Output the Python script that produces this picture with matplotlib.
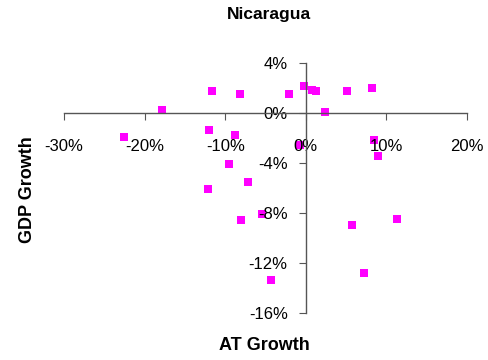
import matplotlib.pyplot as plt
from matplotlib.ticker import FuncFormatter

plt.rcParams['font.family'] = ['Liberation Sans', 'DejaVu Sans']

# AT growth (%) vs GDP growth (%)
at_growth = [-22.5, -17.9, -12.0, -12.1, -11.6, -9.5, -8.8, -8.15, -8.0, -7.15,
             -5.45, -4.3, -2.1, -0.72, -0.2, 0.77, 1.27, 2.43, 5.12, 5.75,
             7.2, 8.27, 8.4, 8.9, 11.26]
gdp_growth = [-1.94, 0.26, -1.34, -6.1, 1.74, -4.07, -1.8, 1.48, -8.6, -5.5,
              -8.12, -13.4, 1.53, -2.55, 2.12, 1.8, 1.75, 0.07, 1.75, -8.95,
              -12.84, 1.99, -2.2, -3.43, -8.52]

fig = plt.figure(figsize=(4.89, 3.6), dpi=100)
ax = fig.add_axes([0.1309, 0.1306, 0.8241, 0.6944])

ax.scatter(at_growth, gdp_growth, marker='s', s=38, color='#FF00FF', linewidths=0)

ax.set_xlim(-30, 20)
ax.set_ylim(-16, 4)
ax.set_xticks([-30, -20, -10, 0, 10, 20])
ax.set_yticks([-16, -12, -8, -4, 0, 4])
pct = FuncFormatter(lambda v, p: '%d%%' % round(v))
ax.xaxis.set_major_formatter(pct)
ax.yaxis.set_major_formatter(pct)

for side in ['top', 'right']:
    ax.spines[side].set_visible(False)
ax.spines['left'].set_position(('data', 0))
ax.spines['bottom'].set_position(('data', 0))
for side in ['left', 'bottom']:
    ax.spines[side].set_color('#555555')
    ax.spines[side].set_linewidth(1.0)
ax.tick_params(axis='both', direction='out', length=5, color='#555555',
               labelsize=12, labelcolor='black')
ax.tick_params(axis='x', pad=14)
ax.tick_params(axis='y', pad=8)

fig.text(269 / 489, 1 - 15 / 360, 'Nicaragua', ha='center', va='center',
         fontsize=12.5, fontweight='bold')
fig.text(264 / 489, 1 - 345 / 360, 'AT Growth', ha='center', va='center',
         fontsize=13, fontweight='bold')
fig.text(28 / 489, 1 - 190 / 360, 'GDP Growth', ha='center', va='center',
         rotation=90, fontsize=13, fontweight='bold')

fig.savefig('out.png', dpi=100)
plt.close(fig)
